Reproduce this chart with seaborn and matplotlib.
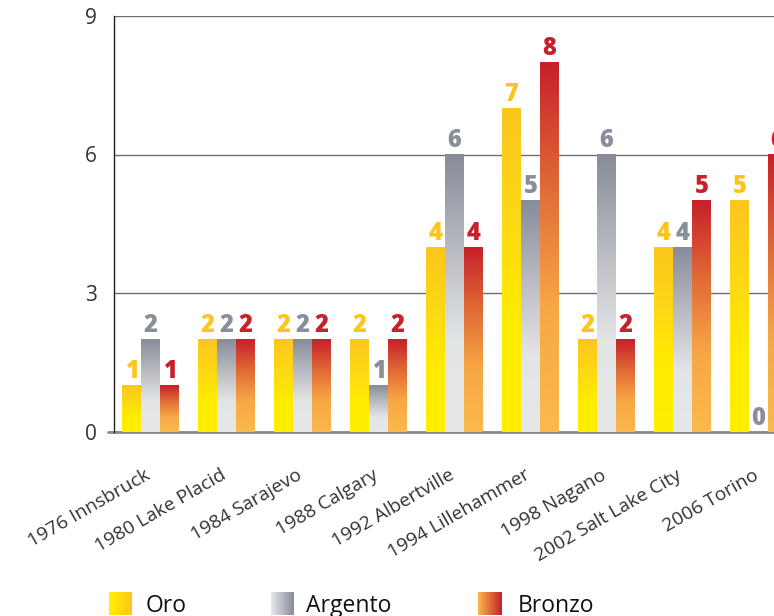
import numpy as np
import pandas as pd
import matplotlib
matplotlib.use("Agg")
import matplotlib.pyplot as plt
from matplotlib.colors import LinearSegmentedColormap
import seaborn as sns

# Medals won per Winter Olympics edition
edizioni = ["1976 Innsbruck", "1980 Lake Placid", "1984 Sarajevo", "1988 Calgary",
            "1992 Albertville", "1994 Lillehammer", "1998 Nagano",
            "2002 Salt Lake City", "2006 Torino"]
oro = [1, 2, 2, 2, 4, 7, 2, 4, 5]
argento = [2, 2, 2, 1, 6, 5, 6, 4, 0]
bronzo = [1, 2, 2, 2, 4, 8, 2, 5, 6]
medaglie = ["Oro", "Argento", "Bronzo"]
y_ticks = [0, 3, 6, 9]

sns.set_theme(style="white")
plt.rcParams["font.family"] = ["Open Sans", "DejaVu Sans"]

df = pd.DataFrame({
    "Edizione": edizioni * 3,
    "Medaglia": np.repeat(medaglie, len(edizioni)),
    "Valore": oro + argento + bronzo,
})

# vertical gradient stops for each medal, bottom -> top
grad = {
    "Oro": ["#FFEF00", "#FFEC00", "#FDD815", "#FCC61E"],
    "Argento": ["#E6E7E9", "#E3E4E6", "#B8BAC1", "#878C99"],
    "Bronzo": ["#FBB94B", "#F7A846", "#E06A36", "#C71F2B"],
}
label_col = {"Oro": "#FDC41C", "Argento": "#898E9B", "Bronzo": "#C8202A"}
base_col = {"Oro": "#FDD815", "Argento": "#B8BAC1", "Bronzo": "#E06A36"}

W, H = 774, 616
fig = plt.figure(figsize=(W / 100, H / 100), dpi=100)
ax = fig.add_axes([114 / W, (H - 432) / H, 684 / W, (432 - 15.75) / H])

sns.barplot(data=df, x="Edizione", y="Valore", hue="Medaglia",
            order=edizioni, hue_order=medaglie, width=0.75, gap=0,
            palette=[base_col[m] for m in medaglie], saturation=1,
            errorbar=None, legend=False, ax=ax)

g = np.linspace(0, 1, 256).reshape(-1, 1)
for med, cont in zip(medaglie, ax.containers):
    cmap = LinearSegmentedColormap.from_list(med, grad[med])
    for bar in cont:
        x, y = bar.get_x(), bar.get_y()
        w, h = bar.get_width(), bar.get_height()
        bar.set_facecolor("none")
        bar.set_edgecolor("none")
        if h > 0:
            ax.imshow(g, cmap=cmap, origin="lower", aspect="auto",
                      extent=[x, x + w, y, y + h], zorder=2,
                      interpolation="bilinear")
    ax.bar_label(cont, fmt="%d", padding=1, color=label_col[med],
                 fontsize=17, fontweight="heavy", zorder=4)

ax.set_xlim(-0.48, 8.52)
ax.set_ylim(0, 9)
ax.set_yticks(y_ticks)
ax.set_xlabel("")
ax.set_ylabel("")

ax.yaxis.grid(True, color="#6E6E6E", lw=1.0)
ax.xaxis.grid(False)
ax.set_axisbelow(True)

for s in ["top", "right", "bottom"]:
    ax.spines[s].set_visible(False)
ax.spines["left"].set_color("#222222")
ax.spines["left"].set_linewidth(1.0)

# baseline at zero, starting just left of the axis
ax.plot([-6 / 684, 1], [0, 0], transform=ax.get_yaxis_transform(),
        color="#8A8A8A", lw=2, clip_on=False, zorder=1)

ax.tick_params(axis="y", length=0, pad=12.5, labelsize=15, labelcolor="#333333")
ax.tick_params(axis="x", length=0, labelbottom=False)

# slanted edition names under each group
for i, name in enumerate(edizioni):
    ax.annotate(name, xy=(i, 0), xycoords=ax.get_xaxis_transform(),
                xytext=(-4.5, -24.5), textcoords="offset points",
                rotation=30, rotation_mode="anchor", ha="right", va="top",
                fontsize=13.8, color="#333333", annotation_clip=False)

# legend: gradient swatches with labels
hg = np.linspace(0, 1, 256).reshape(1, -1)
for med, sx, tx in zip(medaglie, [109, 271, 478], [146, 306, 518]):
    cax = fig.add_axes([sx / W, 1 / H, 23 / W, 23 / H])
    cmap = LinearSegmentedColormap.from_list(med + "_leg",
                                             [grad[med][0], grad[med][-1]])
    cax.imshow(hg, cmap=cmap, aspect="auto", interpolation="bilinear")
    cax.axis("off")
    fig.text(tx / W, (H - 611.5) / H, med, fontsize=16.5, color="#111111",
             va="baseline", ha="left")

fig.savefig("out.png", dpi=100)
